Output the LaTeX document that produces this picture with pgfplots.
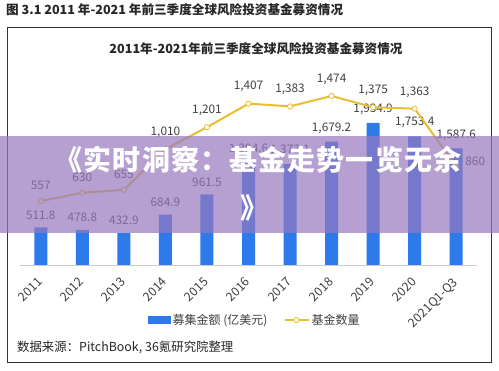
\documentclass[border=0pt]{standalone}
\usepackage{fontspec}
\setmainfont{Noto Sans CJK SC}
\usepackage{pgfplots}
\pgfplotsset{compat=1.18}
\usepackage{pgfplotstable}

\definecolor{barblue}{RGB}{45,122,235}
\definecolor{linegold}{RGB}{232,190,50}
\definecolor{lbl}{RGB}{64,64,64}
\definecolor{ovl}{RGB}{150,120,190}

\pgfplotstableread{
x y lab
0 511.8 511.8
1 478.8 478.8
2 432.9 432.9
3 684.9 684.9
4 961.5 961.5
5 1394.6 1,394.6
6 1373.1 1,373.1
7 1679.2 1,679.2
8 1934.9 1,934.9
9 1753.4 1,753.4
10 1587.6 1,587.6
}\amount

\pgfplotstableread{
x y lab dx dy
0 557 557 0 10
1 630 630 0 10
2 655 655 0 10
3 1010 1,010 0 10
4 1201 1,201 0 10
5 1407 1,407 0 10
6 1383 1,383 0 10
7 1474 1,474 0 10
8 1375 1,375 0 10
9 1363 1,363 0 10
10 860 860 19 -1
}\funds

\begin{document}
\begin{tikzpicture}[x=1pt,y=1pt]
\path[use as bounding box, fill=white] (0,0) rectangle (499,371);
\draw[draw=black!80, line width=1pt, fill=white] (7,8) rectangle (491,343);
\node[anchor=west, font=\fontsize{12.6}{14}\selectfont\bfseries, text=black!85, inner sep=0pt] at (6,361) {图 3.1 2011 年-2021 年前三季度全球风险投资基金募资情况};
\node[font=\fontsize{12.6}{14}\selectfont\bfseries, text=black!85, inner sep=0pt] at (256,322) {2011年-2021年前三季度全球风险投资基金募资情况};
\node[anchor=west, font=\fontsize{12.4}{14}\selectfont, text=black!85, inner sep=0pt] at (17,24) {数据来源：PitchBook, 36氪研究院整理};

\begin{axis}[
  at={(20pt,106pt)}, anchor=south west,
  scale only axis, width=457pt, height=183.5pt,
  xmin=-0.5, xmax=10.5, ymin=0, ymax=2500,
  axis x line*=bottom, axis y line=none,
  x axis line style={draw=black!20, line width=0.8pt, -},
  xtick={0,...,10},
  xticklabels={2011,2012,2013,2014,2015,2016,2017,2018,2019,2020,2021Q1-Q3},
  major tick length=0pt,
  xticklabel style={xshift=-4pt, yshift=-10pt, rotate=45, anchor=north east, font=\fontsize{12.3}{14}\selectfont, text=lbl, inner sep=1pt},
  ybar, bar width=13pt,
  clip=false,
]
\addplot[fill=barblue, draw=none,
  nodes near coords, point meta=explicit symbolic,
  every node near coord/.style={font=\fontsize{11.8}{13}\selectfont, text=lbl, anchor=south, inner sep=1pt, yshift=7pt}]
  table[x=x, y=y, meta=lab] {\amount};
\end{axis}

\begin{axis}[
  at={(20pt,106pt)}, anchor=south west,
  scale only axis, width=457pt, height=183.5pt,
  xmin=-0.5, xmax=10.5, ymin=0, ymax=1600,
  hide axis, clip=false,
  legend style={at={(0.514,-0.30)}, anchor=center, draw=none, fill=none,
    font=\fontsize{12}{14}\selectfont, text=lbl, legend columns=2,
    /tikz/every even column/.append style={column sep=14pt}},
]
\addlegendimage{legend image code/.code={\fill[barblue] (0pt,-3.5pt) rectangle (22pt,3.5pt);}}
\addlegendentry{募集金额 (亿美元)}
\addplot[linegold, line width=2pt, mark=*, mark size=2.6pt,
  mark options={fill=white, draw=linegold, line width=0.8pt},
  legend image code/.code={\draw[linegold, line width=2pt] (0pt,0pt) -- (24pt,0pt); \draw[fill=white, draw=linegold, line width=0.8pt] (12pt,0pt) circle (2.6pt);},
  nodes near coords, point meta=explicit symbolic,
  visualization depends on={\thisrow{dx} \as \dx},
  visualization depends on={\thisrow{dy} \as \dy},
  every node near coord/.style={font=\fontsize{11.8}{13}\selectfont, text=lbl, anchor=south, inner sep=1pt, xshift=\dx pt, yshift=\dy pt}]
  table[x=x, y=y, meta=lab] {\funds};
\addlegendentry{基金数量}
\end{axis}

\fill[ovl, fill opacity=0.7] (0,138) rectangle (499,235);
\node[font=\fontsize{28}{30}\selectfont\bfseries, text=white, inner sep=0pt] at (258,211) {\addfontfeature{LetterSpace=4}《实时洞察：基金走势一览无余};
\node[font=\fontsize{28}{30}\selectfont\bfseries, text=white, inner sep=0pt] at (254,163) {》};
\end{tikzpicture}
\end{document}
